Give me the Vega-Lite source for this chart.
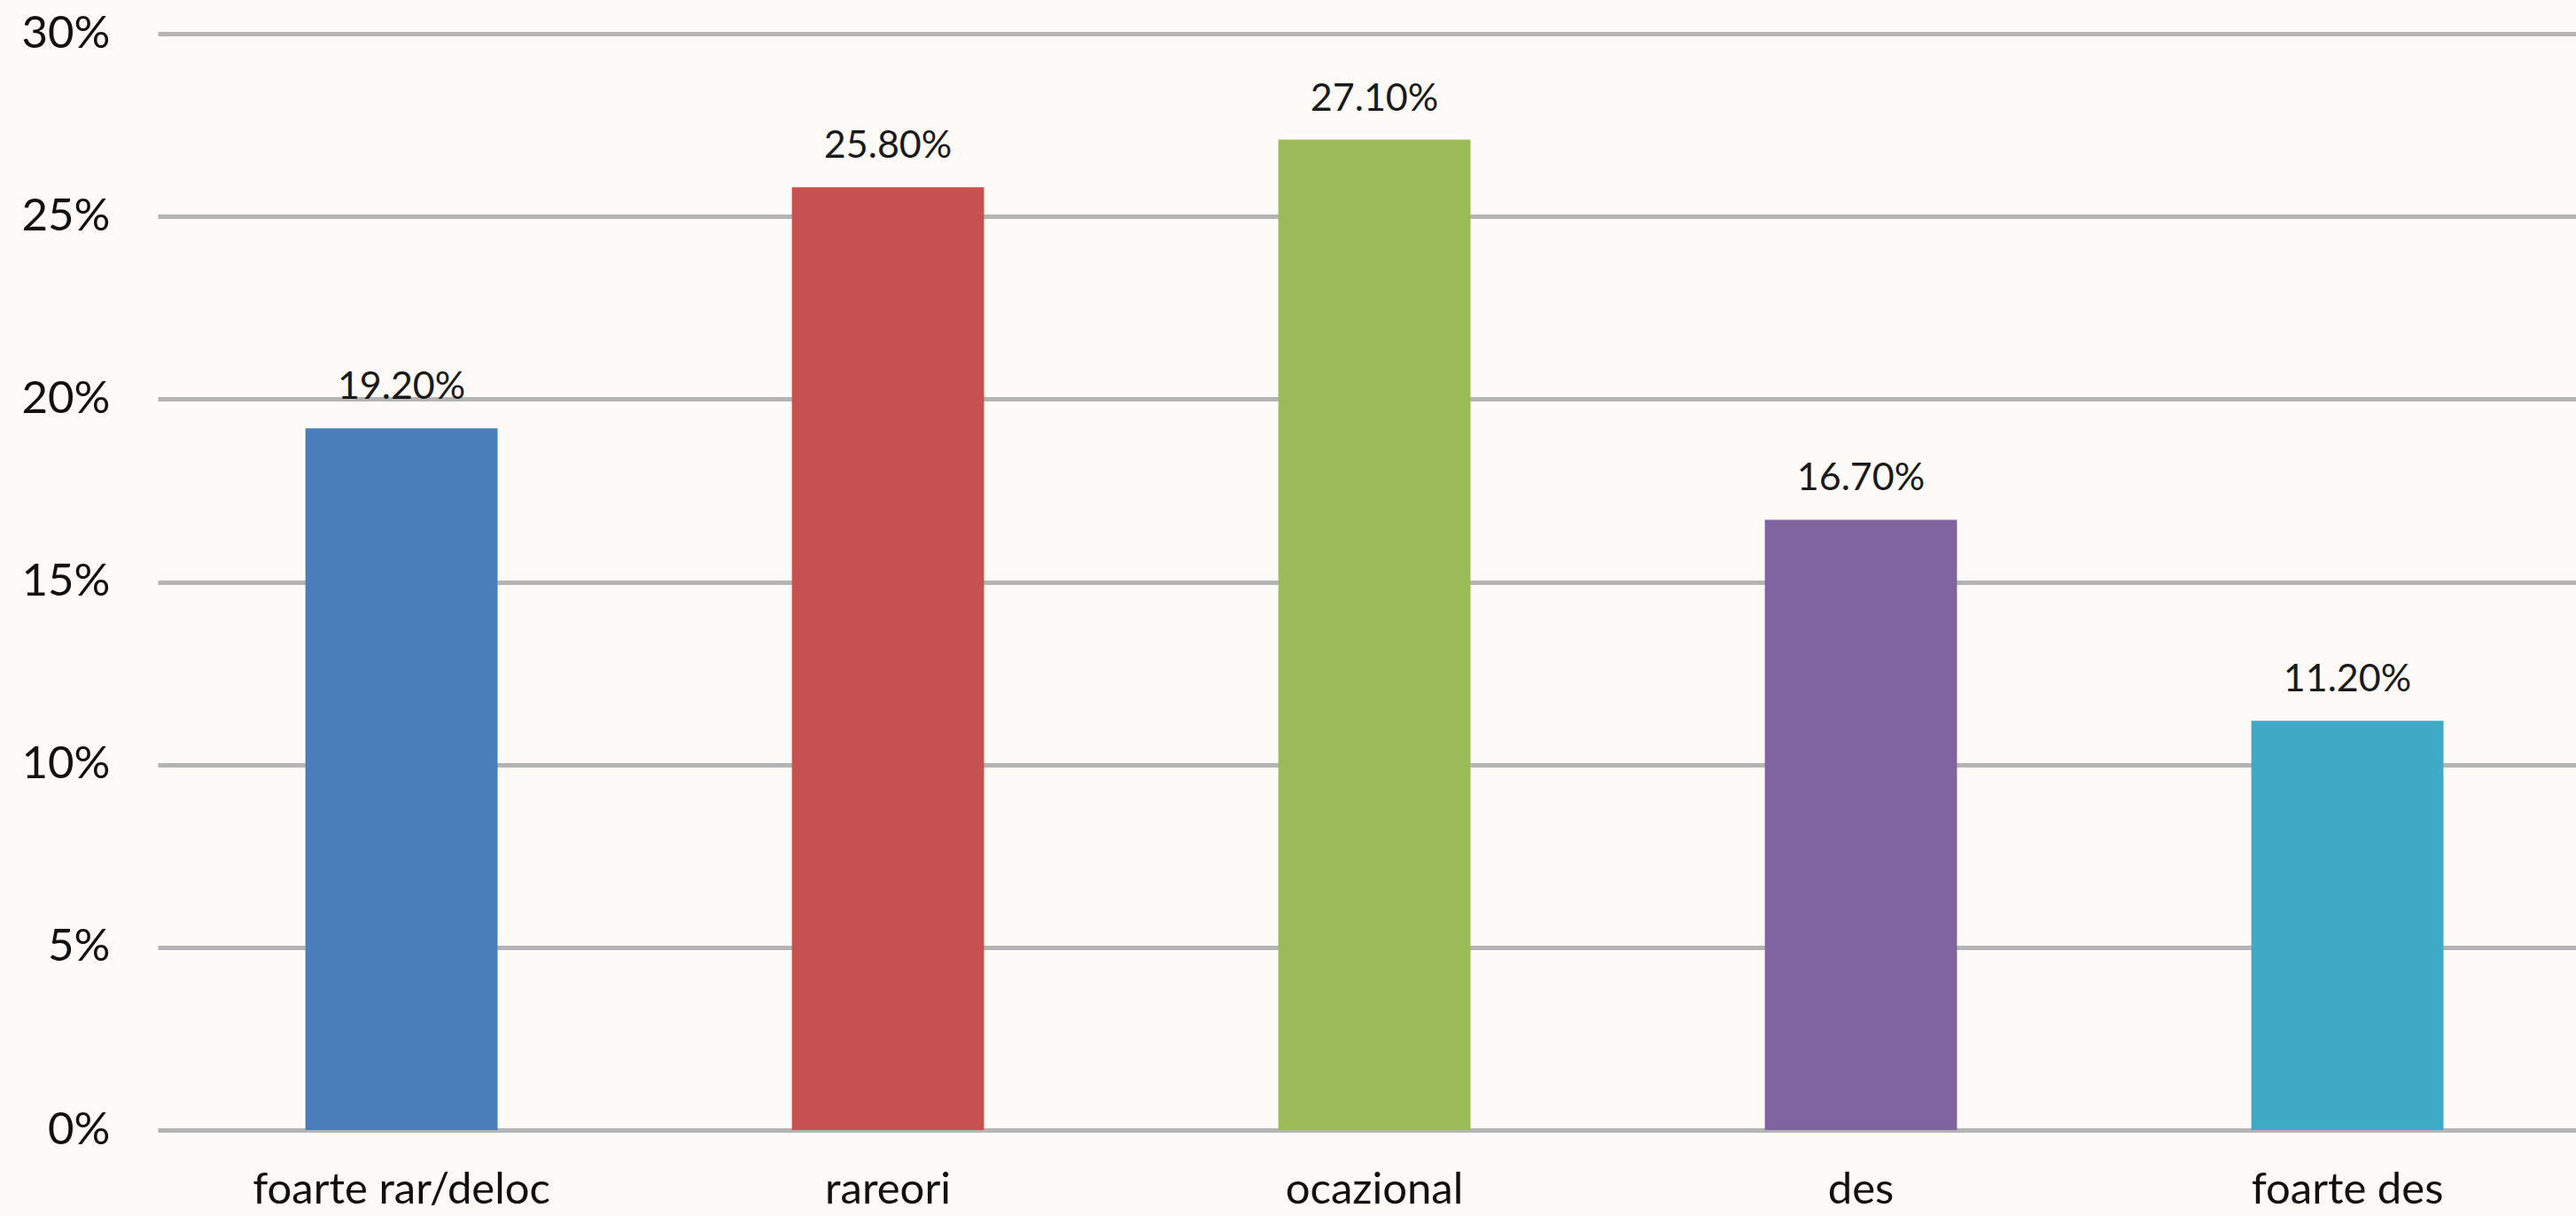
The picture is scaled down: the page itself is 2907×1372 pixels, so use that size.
{
  "$schema": "https://vega.github.io/schema/vega-lite/v6.json",
  "width": 2729,
  "height": 1237,
  "autosize": {"type": "none"},
  "padding": {"left": 178, "top": 38, "right": 0, "bottom": 97},
  "background": "#fdfaf7",
  "data": {
    "values": [
      {"cat": "foarte rar/deloc", "val": 0.192},
      {"cat": "rareori", "val": 0.258},
      {"cat": "ocazional", "val": 0.271},
      {"cat": "des", "val": 0.167},
      {"cat": "foarte des", "val": 0.112}
    ]
  },
  "config": {
    "view": {"stroke": null},
    "axis": {"labelFont": "Lato", "labelColor": "#111111", "labelLimit": 0}
  },
  "encoding": {
    "x": {
      "field": "cat",
      "type": "nominal",
      "sort": null,
      "scale": {"paddingInner": 0.605, "paddingOuter": 0.288, "align": 0.527},
      "axis": {
        "title": null,
        "labelAngle": 0,
        "labelFontSize": 49,
        "labelPadding": 43,
        "ticks": false,
        "domain": false
      }
    },
    "y": {
      "field": "val",
      "type": "quantitative",
      "scale": {"domain": [0, 0.3], "nice": false},
      "axis": {
        "title": null,
        "format": ".0%",
        "values": [0, 0.05, 0.1, 0.15, 0.2, 0.25, 0.3],
        "labelFontSize": 51,
        "labelPadding": 54,
        "ticks": false,
        "domain": false,
        "grid": true,
        "gridColor": "#b4b4b4",
        "gridWidth": 5
      }
    }
  },
  "layer": [
    {
      "mark": {"type": "bar", "strokeWidth": 1.5, "strokeOpacity": 0.6},
      "encoding": {
        "color": {
          "field": "cat",
          "type": "nominal",
          "sort": null,
          "legend": null,
          "scale": {
            "domain": ["foarte rar/deloc", "rareori", "ocazional", "des", "foarte des"],
            "range": ["#4a7ebb", "#c65150", "#9bbb59", "#7f64a1", "#3eaac6"]
          }
        }
      }
    },
    {
      "mark": {"type": "text", "baseline": "alphabetic", "dy": -33, "font": "Lato", "fontSize": 43, "color": "#1a1a1a"},
      "encoding": {
        "text": {"field": "val", "type": "quantitative", "format": ".2%"}
      }
    }
  ]
}
